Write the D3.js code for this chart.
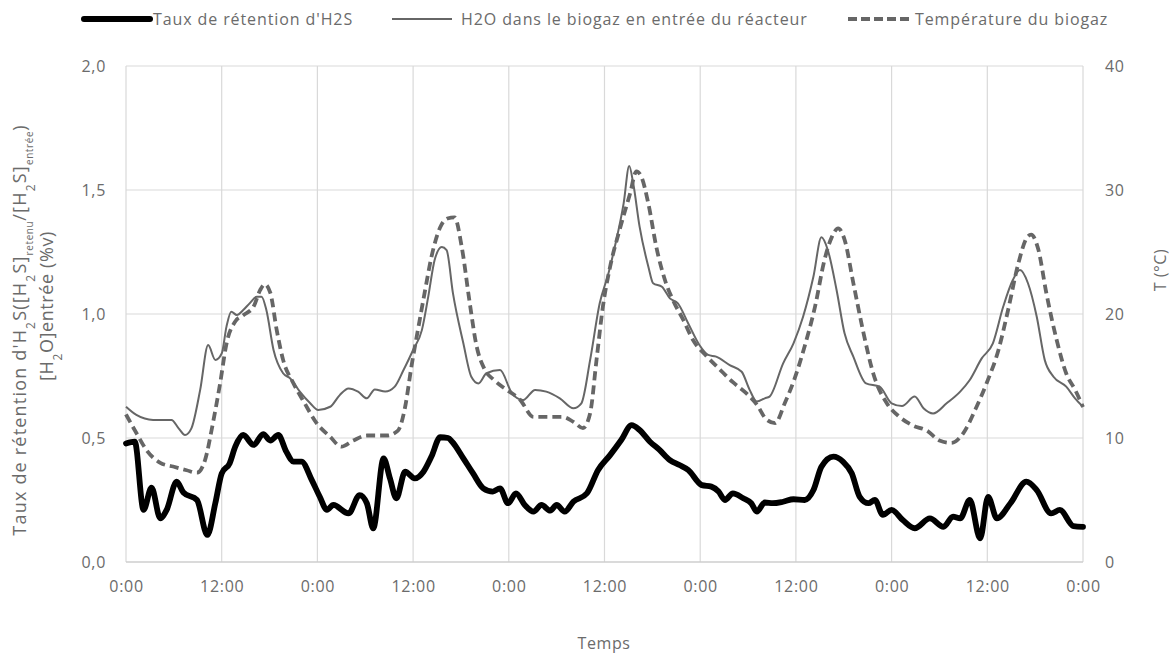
<!DOCTYPE html>
<html>
<head>
<meta charset="utf-8">
<script src="https://cdn.jsdelivr.net/npm/d3@7"></script>
<style>
  html, body { margin: 0; padding: 0; background: #fff; }
  svg { display: block; font-family: "Open Sans", "Noto Sans", sans-serif; }
</style>
</head>
<body>
<svg id="chart" width="1171" height="655"></svg>
<script>
// ---- Data (time in hours from the first 0:00) ----
const xTickHours = [0, 12, 24, 36, 48, 60, 72, 84, 96, 108, 120];
const xTickLabels = ["0:00", "12:00", "0:00", "12:00", "0:00", "12:00", "0:00", "12:00", "0:00", "12:00", "0:00"];
const leftTicks = [0, 0.5, 1.0, 1.5, 2.0];
const rightTicks = [0, 10, 20, 30, 40];

const h2sHours = [0, 1.1, 2.2, 3.2, 4.3, 5.1, 6.35, 7.2, 8.9, 10.2, 11.2, 12.0, 13.0, 13.7, 14.7, 16.0, 17.2, 18.1, 19.1, 20.1, 21.0, 22.0, 23.3, 24.3, 25.2, 26.0, 27.9, 29.3, 30.2, 31.0, 32.3, 33.1, 33.9, 35.0, 36.2, 37.3, 38.3, 39.4, 40.4, 40.9, 42.3, 43.5, 44.8, 46.0, 46.9, 47.9, 48.9, 50.0, 51.1, 52.1, 53.2, 54.0, 55.0, 56.1, 57.8, 59.2, 60.7, 62.1, 63.4, 64.4, 65.7, 66.9, 68.2, 69.4, 70.5, 72.2, 73.4, 74.3, 75.1, 76.1, 77.4, 78.4, 79.1, 80.1, 81.1, 82.4, 83.7, 85.1, 86.2, 87.2, 88.7, 89.9, 91.0, 92.0, 93.1, 93.9, 94.9, 96.0, 97.4, 98.9, 100.8, 102.5, 103.7, 104.6, 105.8, 107.1, 108.1, 109.2, 110.9, 112.9, 114.2, 116.0, 117.1, 118.8, 120];
const h2sValues = [0.478, 0.485, 0.21, 0.30, 0.176, 0.21, 0.324, 0.28, 0.25, 0.109, 0.237, 0.357, 0.398, 0.465, 0.512, 0.472, 0.516, 0.49, 0.512, 0.445, 0.405, 0.405, 0.33, 0.263, 0.21, 0.23, 0.196, 0.27, 0.237, 0.136, 0.418, 0.337, 0.257, 0.364, 0.337, 0.364, 0.425, 0.503, 0.50, 0.485, 0.418, 0.358, 0.297, 0.284, 0.297, 0.237, 0.277, 0.23, 0.203, 0.23, 0.207, 0.23, 0.203, 0.243, 0.277, 0.371, 0.431, 0.492, 0.552, 0.532, 0.485, 0.452, 0.411, 0.391, 0.371, 0.31, 0.304, 0.284, 0.25, 0.277, 0.257, 0.237, 0.203, 0.24, 0.237, 0.243, 0.253, 0.25, 0.29, 0.384, 0.425, 0.405, 0.358, 0.263, 0.237, 0.25, 0.19, 0.21, 0.169, 0.136, 0.176, 0.142, 0.183, 0.176, 0.25, 0.095, 0.263, 0.176, 0.237, 0.324, 0.29, 0.196, 0.21, 0.145, 0.142];

const h2oHours = [0, 1.3, 3.4, 5.7, 6.6, 7.4, 8.2, 9.3, 10.3, 11.2, 12.0, 12.6, 13.2, 13.9, 14.7, 15.5, 16.4, 17.0, 17.6, 18.5, 19.7, 20.6, 21.8, 23.1, 24.1, 25.6, 26.8, 27.9, 29.1, 30.2, 31.2, 32.5, 33.7, 34.8, 36.0, 37.1, 37.9, 38.7, 39.6, 40.2, 41.0, 42.3, 43.3, 44.2, 45.2, 46.9, 48.4, 49.8, 51.3, 52.7, 54.4, 56.1, 57.1, 58.2, 59.4, 60.5, 61.3, 62.4, 63.1, 63.6, 64.4, 65.5, 66.1, 67.2, 68.2, 69.2, 70.5, 71.9, 73.0, 74.0, 75.7, 77.2, 78.2, 79.1, 80.1, 80.7, 82.4, 83.7, 84.9, 86.2, 87.2, 88.0, 89.1, 90.1, 91.2, 92.8, 94.5, 96.0, 97.3, 98.9, 100.0, 101.2, 102.9, 104.6, 105.8, 107.3, 108.7, 110.0, 111.2, 112.1, 113.1, 114.2, 115.2, 116.3, 117.9, 119.0, 120];
const h2oValues = [0.626, 0.593, 0.573, 0.573, 0.539, 0.512, 0.539, 0.694, 0.875, 0.815, 0.841, 0.949, 1.009, 0.996, 1.016, 1.043, 1.07, 1.07, 1.016, 0.855, 0.761, 0.74, 0.687, 0.64, 0.613, 0.626, 0.673, 0.70, 0.687, 0.66, 0.696, 0.687, 0.707, 0.774, 0.855, 0.935, 1.07, 1.218, 1.27, 1.258, 1.083, 0.882, 0.747, 0.72, 0.761, 0.774, 0.68, 0.653, 0.694, 0.687, 0.66, 0.62, 0.64, 0.815, 1.043, 1.164, 1.272, 1.446, 1.597, 1.527, 1.352, 1.191, 1.124, 1.11, 1.063, 1.043, 0.962, 0.875, 0.835, 0.828, 0.794, 0.767, 0.694, 0.647, 0.66, 0.667, 0.801, 0.882, 0.989, 1.151, 1.309, 1.258, 1.097, 0.922, 0.828, 0.72, 0.707, 0.64, 0.629, 0.667, 0.62, 0.599, 0.64, 0.687, 0.734, 0.821, 0.882, 1.03, 1.137, 1.177, 1.124, 0.989, 0.815, 0.747, 0.707, 0.66, 0.626];

const tempHours = [0, 1.3, 2.6, 4.3, 5.9, 7.6, 8.9, 9.9, 10.9, 11.8, 12.6, 13.7, 14.7, 16.0, 16.8, 17.4, 18.1, 18.9, 19.7, 21.0, 22.4, 23.9, 25.6, 27.0, 28.5, 30.2, 32.7, 34.1, 35.0, 35.8, 36.6, 37.5, 38.3, 39.4, 40.3, 41.2, 42.1, 43.1, 43.9, 45.0, 46.1, 47.7, 49.4, 51.1, 52.7, 54.8, 56.1, 57.3, 58.2, 59.0, 59.8, 60.7, 61.9, 63.2, 64.0, 64.6, 65.5, 66.5, 67.6, 68.6, 69.9, 71.1, 72.8, 74.5, 76.1, 77.8, 79.1, 80.3, 81.4, 82.6, 83.9, 85.1, 86.4, 87.6, 88.5, 89.3, 90.1, 91.2, 92.4, 93.7, 95.4, 97.0, 98.7, 100.4, 102.0, 103.5, 105.0, 106.5, 107.9, 109.4, 110.6, 111.9, 113.0, 113.5, 114.4, 115.4, 116.7, 117.9, 119.0, 120];
const tempValues = [11.9, 10.4, 9.0, 8.0, 7.7, 7.4, 7.2, 8.2, 11.2, 14.4, 17.6, 19.4, 19.9, 20.6, 21.9, 22.4, 21.7, 18.7, 16.3, 14.4, 12.8, 11.2, 10.1, 9.3, 9.8, 10.2, 10.2, 10.6, 12.5, 15.8, 18.7, 21.9, 24.6, 27.0, 27.7, 27.8, 25.4, 20.9, 17.6, 15.5, 14.7, 13.9, 13.1, 11.7, 11.7, 11.7, 11.3, 10.8, 12.0, 16.3, 20.6, 23.8, 26.8, 29.7, 31.5, 31.1, 28.9, 25.4, 22.7, 21.1, 19.5, 17.9, 16.6, 15.5, 14.5, 13.6, 12.7, 11.5, 11.2, 12.8, 14.9, 17.4, 20.6, 24.4, 26.2, 26.9, 26.0, 22.5, 18.7, 15.2, 12.8, 11.7, 11.0, 10.6, 9.8, 9.6, 10.4, 12.3, 14.4, 17.1, 20.3, 24.1, 26.2, 26.4, 25.2, 21.7, 17.9, 15.2, 13.9, 12.5];

const seriesNames = ["Taux de rétention d'H2S", "H2O dans le biogaz en entrée du réacteur", "Température du biogaz"];

// ---- Layout ----
const svg = d3.select("#chart");
const plot = { left: 126, right: 1083, top: 66, bottom: 562 };
const textColor = "#6b6b6b";
const gridColor = "#d9d9d9";
const lineGray = "#666666";

const x = d3.scaleLinear().domain([0, 120]).range([plot.left, plot.right]);
const yL = d3.scaleLinear().domain([0, 2]).range([plot.bottom, plot.top]);
const yR = d3.scaleLinear().domain([0, 40]).range([plot.bottom, plot.top]);

// Gridlines
const grid = svg.append("g");
grid.selectAll("line.h").data(leftTicks).join("line")
  .attr("x1", plot.left).attr("x2", plot.right)
  .attr("y1", d => yL(d)).attr("y2", d => yL(d))
  .attr("stroke", gridColor).attr("stroke-width", 1.2);
grid.selectAll("line.v").data(xTickHours).join("line")
  .attr("x1", d => x(d)).attr("x2", d => x(d))
  .attr("y1", plot.top).attr("y2", plot.bottom)
  .attr("stroke", gridColor).attr("stroke-width", 1.2);

// Axes
const fmtComma = d => d3.format(".1f")(d).replace(".", ",");
const axL = svg.append("g").attr("transform", `translate(${plot.left},0)`)
  .call(d3.axisLeft(yL).tickValues(leftTicks).tickFormat(fmtComma).tickSize(0).tickPadding(20));
const axR = svg.append("g").attr("transform", `translate(${plot.right},0)`)
  .call(d3.axisRight(yR).tickValues(rightTicks).tickFormat(d3.format("d")).tickSize(0).tickPadding(22));
const axB = svg.append("g").attr("transform", `translate(0,${plot.bottom})`)
  .call(d3.axisBottom(x).tickValues(xTickHours).tickFormat((d, i) => xTickLabels[i]).tickSize(0).tickPadding(19));
[axL, axR, axB].forEach(a => {
  a.select(".domain").remove();
  a.selectAll("text").attr("fill", textColor).style("font-size", "16px")
    .style("font-family", "'Open Sans', sans-serif").style("letter-spacing", "0.7px");
});
// bottom axis line
svg.append("line").attr("x1", plot.left).attr("x2", plot.right)
  .attr("y1", plot.bottom).attr("y2", plot.bottom)
  .attr("stroke", "#c8c8c8").attr("stroke-width", 1.2);

// Lines
const toPts = (hs, vs) => hs.map((h, i) => [h, vs[i]]);
const lineL = d3.line().x(d => x(d[0])).y(d => yL(d[1])).curve(d3.curveMonotoneX);
const lineR = d3.line().x(d => x(d[0])).y(d => yR(d[1])).curve(d3.curveMonotoneX);

svg.append("path").datum(toPts(h2oHours, h2oValues))
  .attr("d", lineL).attr("fill", "none").attr("stroke", lineGray).attr("stroke-width", 2);
svg.append("path").datum(toPts(tempHours, tempValues))
  .attr("d", lineR).attr("fill", "none").attr("stroke", lineGray).attr("stroke-width", 3.8)
  .attr("stroke-dasharray", "9,5");
svg.append("path").datum(toPts(h2sHours, h2sValues))
  .attr("d", lineL).attr("fill", "none").attr("stroke", "#000").attr("stroke-width", 5.8)
  .attr("stroke-linejoin", "round").attr("stroke-linecap", "round");

// Legend
const legend = svg.append("g").style("font-family", "'Open Sans', sans-serif").style("font-size", "16px");
const legItems = [
  { x1: 84, x2: 150, tx: 153, stroke: "#000", w: 6, dash: null, cap: "round" },
  { x1: 392, x2: 452, tx: 461, stroke: lineGray, w: 2, dash: null, cap: "butt" },
  { x1: 848, x2: 913, tx: 915, stroke: lineGray, w: 4, dash: "9,4", cap: "butt" }
];
legItems.forEach((it, i) => {
  legend.append("line").attr("x1", it.x1).attr("x2", it.x2).attr("y1", 19).attr("y2", 19)
    .attr("stroke", it.stroke).attr("stroke-width", it.w).attr("stroke-linecap", it.cap)
    .attr("stroke-dasharray", it.dash);
  legend.append("text").attr("x", it.tx).attr("y", 25).attr("fill", textColor)
    .style("letter-spacing", "0.9px").text(seriesNames[i]);
});

// Axis titles
svg.append("text").attr("x", 604).attr("y", 649).attr("text-anchor", "middle")
  .attr("fill", textColor).style("font-size", "16px").style("letter-spacing", "0.6px").text("Temps");

svg.append("text").attr("transform", "translate(1166,270) rotate(-90)").attr("text-anchor", "middle")
  .attr("fill", textColor).style("font-size", "16px").style("letter-spacing", "0.5px").text("T (°C)");

const yt1 = svg.append("text").attr("transform", "translate(26,330) rotate(-90)").attr("text-anchor", "middle")
  .attr("fill", textColor).style("font-size", "18px").style("letter-spacing", "1.2px");
yt1.append("tspan").text("Taux de rétention d'H");
yt1.append("tspan").attr("baseline-shift", "sub").style("font-size", "12px").text("2");
yt1.append("tspan").text("S([H");
yt1.append("tspan").attr("baseline-shift", "sub").style("font-size", "12px").text("2");
yt1.append("tspan").text("S]");
yt1.append("tspan").attr("baseline-shift", "sub").style("font-size", "10px").style("letter-spacing", "0.6px").text("retenu");
yt1.append("tspan").text("/[H");
yt1.append("tspan").attr("baseline-shift", "sub").style("font-size", "12px").text("2");
yt1.append("tspan").text("S]");
yt1.append("tspan").attr("baseline-shift", "sub").style("font-size", "10px").style("letter-spacing", "0.6px").text("entrée");
yt1.append("tspan").text(")");

const yt2 = svg.append("text").attr("transform", "translate(53,306) rotate(-90)").attr("text-anchor", "middle")
  .attr("fill", textColor).style("font-size", "18px").style("letter-spacing", "0.6px");
yt2.append("tspan").text("[H");
yt2.append("tspan").attr("baseline-shift", "sub").style("font-size", "12px").text("2");
yt2.append("tspan").text("O]entrée (%v)");
</script>
</body>
</html>
